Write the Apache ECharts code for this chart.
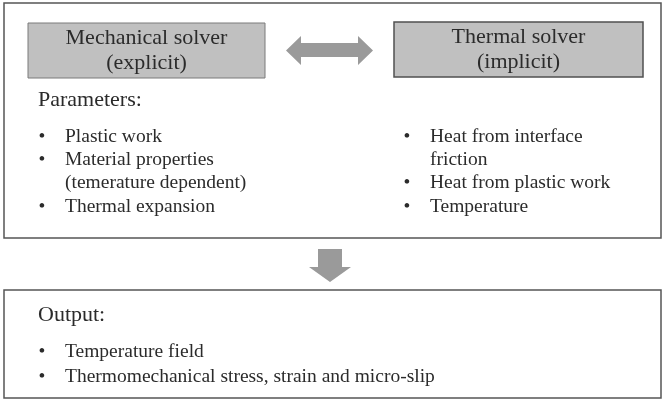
<!DOCTYPE html>
<html>
<head>
<meta charset="utf-8">
<script src="https://cdn.jsdelivr.net/npm/echarts@6/dist/echarts.min.js"></script>
<style>
  html, body { margin: 0; padding: 0; background: #fff; }
  #chart { width: 663px; height: 406px; }
</style>
</head>
<body>
<div id="chart"></div>
<script>
// diagram content
var solverTitles = ['Mechanical solver\n(explicit)', 'Thermal solver\n(implicit)'];
var paramHeading = 'Parameters:';
var mechParams = [['Plastic work'], ['Material properties', '(temerature dependent)'], ['Thermal expansion']];
var thermParams = [['Heat from interface', 'friction'], ['Heat from plastic work'], ['Temperature']];
var outputHeading = 'Output:';
var outputs = [['Temperature field'], ['Thermomechanical stress, strain and micro-slip']];

var FONT = '"Liberation Serif", "Times New Roman", serif';
var TXT = '#2b2b2b';

function txt(x, y, s, size, align) {
  return {
    type: 'text', x: x, y: y,
    style: { text: s, font: size + 'px ' + FONT, fill: TXT, align: align || 'left', verticalAlign: 'middle', lineHeight: 25 }
  };
}

// bullet list: each item may wrap onto several lines
function bulletList(items, bx, tx, y0, step, out) {
  var y = y0;
  items.forEach(function (lines) {
    out.push(txt(bx, y, '\u2022', 19.5, 'center'));
    lines.forEach(function (l) {
      out.push(txt(tx, y, l, 19.5));
      y += step;
    });
  });
}

var g = [];
// outer frames
g.push({ type: 'rect', shape: { x: 4, y: 3, width: 657, height: 235 }, style: { fill: '#fff', stroke: '#555', lineWidth: 1.5 } });
g.push({ type: 'rect', shape: { x: 4, y: 290, width: 657, height: 108 }, style: { fill: '#fff', stroke: '#555', lineWidth: 1.5 } });
// solver boxes
g.push({ type: 'rect', shape: { x: 28, y: 23, width: 237, height: 55 }, style: { fill: '#c0c0c0', stroke: '#7a7a7a', lineWidth: 1 } });
g.push({ type: 'rect', shape: { x: 394, y: 22, width: 249, height: 55 }, style: { fill: '#c0c0c0', stroke: '#505050', lineWidth: 1.5 } });
g.push(txt(146.5, 50.5, solverTitles[0], 22, 'center'));
g.push(txt(518.5, 49.5, solverTitles[1], 22, 'center'));
// arrows
g.push({ type: 'polygon', shape: { points: [[286, 50.5], [301, 36], [301, 43], [358, 43], [358, 36], [373, 50.5], [358, 65], [358, 57], [301, 57], [301, 65]] }, style: { fill: '#9a9a9a' } });
g.push({ type: 'polygon', shape: { points: [[318, 249], [342, 249], [342, 267], [351, 267], [330, 282], [309, 267], [318, 267]] }, style: { fill: '#9a9a9a' } });
// parameters
g.push(txt(38, 100.5, paramHeading, 22));
bulletList(mechParams, 42, 65, 136.5, 23.3, g);
bulletList(thermParams, 407, 430, 136.5, 23.3, g);
// output
g.push(txt(38, 315.5, outputHeading, 22));
bulletList(outputs, 42, 65, 351.5, 25, g);

var chart = echarts.init(document.getElementById('chart'));
chart.setOption({
  backgroundColor: '#fff',
  animation: false,
  graphic: g
});
</script>
</body>
</html>
